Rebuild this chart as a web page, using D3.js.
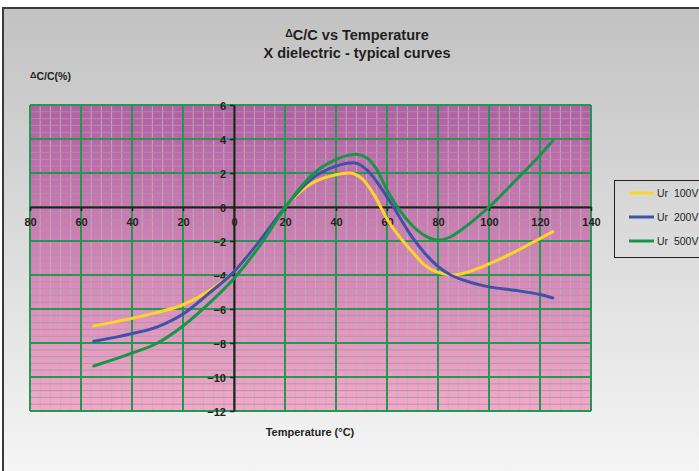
<!DOCTYPE html>
<html>
<head>
<meta charset="utf-8">
<script src="https://cdn.jsdelivr.net/npm/d3@7"></script>
<style>
  html, body { margin: 0; padding: 0; background: #fff; }
  svg { display: block; font-family: "Liberation Sans", Arial, sans-serif; }
</style>
</head>
<body>
<div id="chart"></div>
<script>
// Data
const xTicks = [-80, -60, -40, -20, 0, 20, 40, 60, 80, 100, 120, 140];
const xTickLabels = ["80", "60", "40", "20", "0", "20", "40", "60", "80", "100", "120", "140"];
const yTicks = [6, 4, 2, 0, -2, -4, -6, -8, -10, -12];

const temp100 = [-55, -40, -30, -20, -10, 0, 10, 20, 30, 40, 45, 50, 55, 60, 70, 75, 80, 86, 90, 100, 110, 120, 125];
const ur100   = [-7.0, -6.55, -6.2, -5.75, -4.95, -3.8, -2.0, 0, 1.35, 1.9, 2.0, 1.7, 0.7, -0.7, -2.65, -3.45, -3.85, -4.0, -3.9, -3.35, -2.65, -1.85, -1.45];

const temp200 = [-55, -40, -30, -20, -10, 0, 10, 20, 30, 40, 47, 52, 60, 70, 75, 80, 85, 90, 100, 110, 120, 125];
const ur200   = [-7.9, -7.45, -7.05, -6.3, -5.1, -3.8, -2.0, 0, 1.6, 2.4, 2.6, 2.2, 0.6, -1.8, -2.75, -3.5, -4.0, -4.3, -4.7, -4.9, -5.15, -5.35];

const temp500 = [-55, -40, -30, -20, -10, 0, 10, 20, 30, 40, 45, 48, 52, 56, 60, 65, 70, 75, 80, 85, 90, 95, 100, 110, 120, 125];
const ur500   = [-9.35, -8.6, -8.0, -7.0, -5.7, -4.2, -2.3, -0.05, 1.8, 2.8, 3.05, 3.1, 2.9, 2.2, 1.0, -0.2, -1.1, -1.7, -1.95, -1.75, -1.25, -0.65, 0.0, 1.5, 3.05, 3.9];

const seriesNames = ["Ur  100V", "Ur  200V", "Ur  500V"];
const seriesColors = ["#ffd42a", "#3f51a8", "#17964a"];

const W = 699, H = 471;
const plot = { left: 30, right: 591, top: 105, bottom: 411 };

const xScale = d3.scaleLinear().domain([-80, 140]).range([plot.left, plot.right]);
const yScale = d3.scaleLinear().domain([-12, 6]).range([plot.bottom, plot.top]);

const svg = d3.select("#chart").append("svg")
    .attr("width", W)
    .attr("height", H);

const defs = svg.append("defs");
const bgGrad = defs.append("linearGradient").attr("id", "bgGrad")
    .attr("x1", 0).attr("y1", 0).attr("x2", 0).attr("y2", 1);
bgGrad.append("stop").attr("offset", "0%").attr("stop-color", "#c2c2c2");
bgGrad.append("stop").attr("offset", "100%").attr("stop-color", "#f6f6f6");

const plotGrad = defs.append("linearGradient").attr("id", "plotGrad")
    .attr("x1", 0).attr("y1", 0).attr("x2", 0).attr("y2", 1);
plotGrad.append("stop").attr("offset", "0%").attr("stop-color", "#b45ea6");
plotGrad.append("stop").attr("offset", "100%").attr("stop-color", "#f4a8c9");

// chart background + border (top/left visible only)
svg.append("rect")
    .attr("x", 3).attr("y", 8)
    .attr("width", W).attr("height", H)
    .attr("fill", "url(#bgGrad)")
    .attr("stroke", "#3a3a3a")
    .attr("stroke-width", 2);

// plot area
svg.append("rect")
    .attr("x", plot.left).attr("y", plot.top)
    .attr("width", plot.right - plot.left)
    .attr("height", plot.bottom - plot.top)
    .attr("fill", "url(#plotGrad)");

// minor grid
const minorX = d3.range(-80, 140.1, 4);
const minorY = d3.range(-12, 6.01, 0.4);
const grid = svg.append("g");
grid.selectAll(".minor-x")
    .data(minorX)
    .enter()
    .append("line")
    .attr("class", "minor-x")
    .attr("x1", d => xScale(d)).attr("x2", d => xScale(d))
    .attr("y1", plot.top).attr("y2", plot.bottom)
    .attr("stroke", "#bdb3b9")
    .attr("stroke-opacity", 0.85)
    .attr("stroke-width", 1);
grid.selectAll(".minor-y")
    .data(minorY)
    .enter()
    .append("line")
    .attr("class", "minor-y")
    .attr("x1", plot.left).attr("x2", plot.right)
    .attr("y1", d => yScale(d)).attr("y2", d => yScale(d))
    .attr("stroke", "#a39aa0")
    .attr("stroke-opacity", 0.85)
    .attr("stroke-width", 1);

// major grid
grid.selectAll(".major-x")
    .data(xTicks)
    .enter()
    .append("line")
    .attr("class", "major-x")
    .attr("x1", d => xScale(d)).attr("x2", d => xScale(d))
    .attr("y1", plot.top).attr("y2", plot.bottom)
    .attr("stroke", "#1f9a4e")
    .attr("stroke-width", 2);
grid.selectAll(".major-y")
    .data(yTicks)
    .enter()
    .append("line")
    .attr("class", "major-y")
    .attr("x1", plot.left).attr("x2", plot.right)
    .attr("y1", d => yScale(d)).attr("y2", d => yScale(d))
    .attr("stroke", "#1f9a4e")
    .attr("stroke-width", 2);

// axes through the origin
const xAxis = svg.append("g")
    .attr("transform", `translate(0,${yScale(0)})`)
    .call(d3.axisBottom(xScale)
        .tickValues(xTicks)
        .tickFormat((d, i) => xTickLabels[i])
        .tickSize(4)
        .tickSizeOuter(0)
        .tickPadding(7));
const yAxis = svg.append("g")
    .attr("transform", `translate(${xScale(0)},0)`)
    .call(d3.axisLeft(yScale)
        .tickValues(yTicks)
        .tickFormat(d3.format("d"))
        .tickSize(4)
        .tickSizeOuter(0)
        .tickPadding(4));

[xAxis, yAxis].forEach(ax => {
    ax.select(".domain").attr("stroke", "#231f20").attr("stroke-width", 2);
    ax.selectAll(".tick line").attr("stroke", "#231f20").attr("stroke-width", 1.5);
    ax.selectAll(".tick text")
        .attr("fill", "#231f20")
        .style("font-size", "11px")
        .style("font-weight", "bold")
        .style("font-family", "'Liberation Sans', Arial, sans-serif");
});
yAxis.selectAll(".tick text").attr("dy", "0.4em");

// curves
const series = [
    { temps: temp100, values: ur100 },
    { temps: temp200, values: ur200 },
    { temps: temp500, values: ur500 }
];
const line = d3.line()
    .x(d => xScale(d[0]))
    .y(d => yScale(d[1]))
    .curve(d3.curveMonotoneX);

svg.selectAll(".curve")
    .data(series)
    .enter()
    .append("path")
    .attr("class", "curve")
    .attr("d", s => line(s.temps.map((t, i) => [t, s.values[i]])))
    .attr("fill", "none")
    .attr("stroke", (s, i) => seriesColors[i])
    .attr("stroke-width", 3)
    .attr("stroke-linecap", "round");

// titles
const title = svg.append("text")
    .attr("x", 357).attr("y", 40)
    .attr("text-anchor", "middle")
    .attr("fill", "#231f20")
    .style("font-size", "14.5px")
    .style("font-weight", "bold");
title.append("tspan").attr("font-size", "10.5px").attr("dy", "-3").text("Δ");
title.append("tspan").attr("dy", "3").text("C/C vs Temperature");

svg.append("text")
    .attr("x", 357).attr("y", 58)
    .attr("text-anchor", "middle")
    .attr("fill", "#231f20")
    .style("font-size", "14.5px")
    .style("font-weight", "bold")
    .text("X dielectric - typical curves");

const yLabel = svg.append("text")
    .attr("x", 30).attr("y", 80)
    .attr("fill", "#231f20")
    .style("font-weight", "bold");
yLabel.append("tspan").attr("font-size", "9px").attr("dy", "-2").text("Δ");
yLabel.append("tspan").attr("font-size", "10.5px").attr("dy", "2").text("C/C(%)");

svg.append("text")
    .attr("x", 310).attr("y", 436)
    .attr("text-anchor", "middle")
    .attr("fill", "#231f20")
    .style("font-size", "11px")
    .style("font-weight", "bold")
    .text("Temperature (°C)");

// legend
const legend = svg.append("g").attr("transform", "translate(614,180)");
legend.append("rect")
    .attr("x", 0.5).attr("y", 0.5)
    .attr("width", 100).attr("height", 77)
    .attr("fill", "none")
    .attr("stroke", "#231f20")
    .attr("stroke-width", 1);
const items = legend.selectAll(".item")
    .data(seriesNames)
    .enter()
    .append("g")
    .attr("class", "item")
    .attr("transform", (d, i) => `translate(0,${13 + i * 24})`);
items.append("line")
    .attr("x1", 15).attr("x2", 40)
    .attr("y1", 0).attr("y2", 0)
    .attr("stroke", (d, i) => seriesColors[i])
    .attr("stroke-width", 3);
items.append("text")
    .attr("x", 43).attr("y", 0)
    .attr("dy", "0.35em")
    .attr("fill", "#231f20")
    .style("font-size", "10.5px")
    .style("white-space", "pre")
    .text(d => d);
</script>
</body>
</html>
